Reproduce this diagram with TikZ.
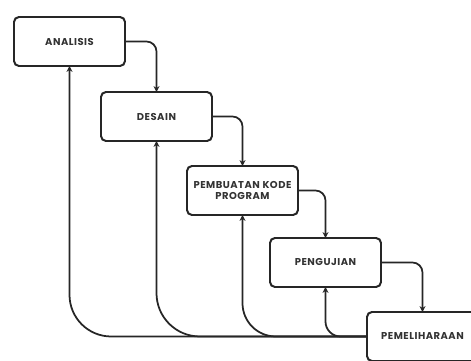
\documentclass[tikz,border=0pt]{standalone}
\usepackage{fontspec}
\setmainfont{Poppins}
\usetikzlibrary{arrows.meta, positioning}

\begin{document}
\begin{tikzpicture}[
    node distance=0.75cm,
    box/.style={rectangle, rounded corners=0.15cm, draw=black!85, line width=1.7pt, outer sep=0pt, fill=white, minimum width=3.33cm, minimum height=1.47cm, align=center, text=black!80, font=\fontsize{8.5}{9.5}\selectfont\bfseries\addfontfeature{LetterSpace=5}},
    arrow/.style={line width=1.5pt, draw=black!85, -{Stealth[length=5pt, width=5pt]}}
]

\useasboundingbox (0,0) rectangle (14.13,-10.83);

% Nodes
\node (analisis) [box] at (2.085,-1.245) {ANALISIS};
\node (desain) [box, below right=0.78cm and -0.72cm of analisis] {DESAIN};
\node (kode) [box, below right=0.75cm and -0.75cm of desain] {PEMBUATAN KODE\\PROGRAM};
\node (pengujian) [box, below right=0.69cm and -0.84cm of kode] {PENGUJIAN};
\node (pemeliharaan) [box, below right=0.75cm and -0.42cm of pengujian] {PEMELIHARAAN};

% Arrows
\draw [arrow, rounded corners=0.3cm] (analisis) -| (desain);
\draw [arrow, rounded corners=0.3cm] (desain) -| (kode);
\draw [arrow, rounded corners=0.3cm] (kode) -| (pengujian);
\draw [arrow, rounded corners=0.3cm] (pengujian) -| (pemeliharaan);

% Feedback
\draw [arrow, rounded corners=1.25cm] (pemeliharaan) -| (analisis);
\draw [arrow, rounded corners=1.3cm] (pemeliharaan) -| (desain);
\draw [arrow, rounded corners=1cm] (pemeliharaan) -| (kode);
\draw [arrow, rounded corners=0.45cm] (pemeliharaan) -| (pengujian);

\end{tikzpicture}
\end{document}
